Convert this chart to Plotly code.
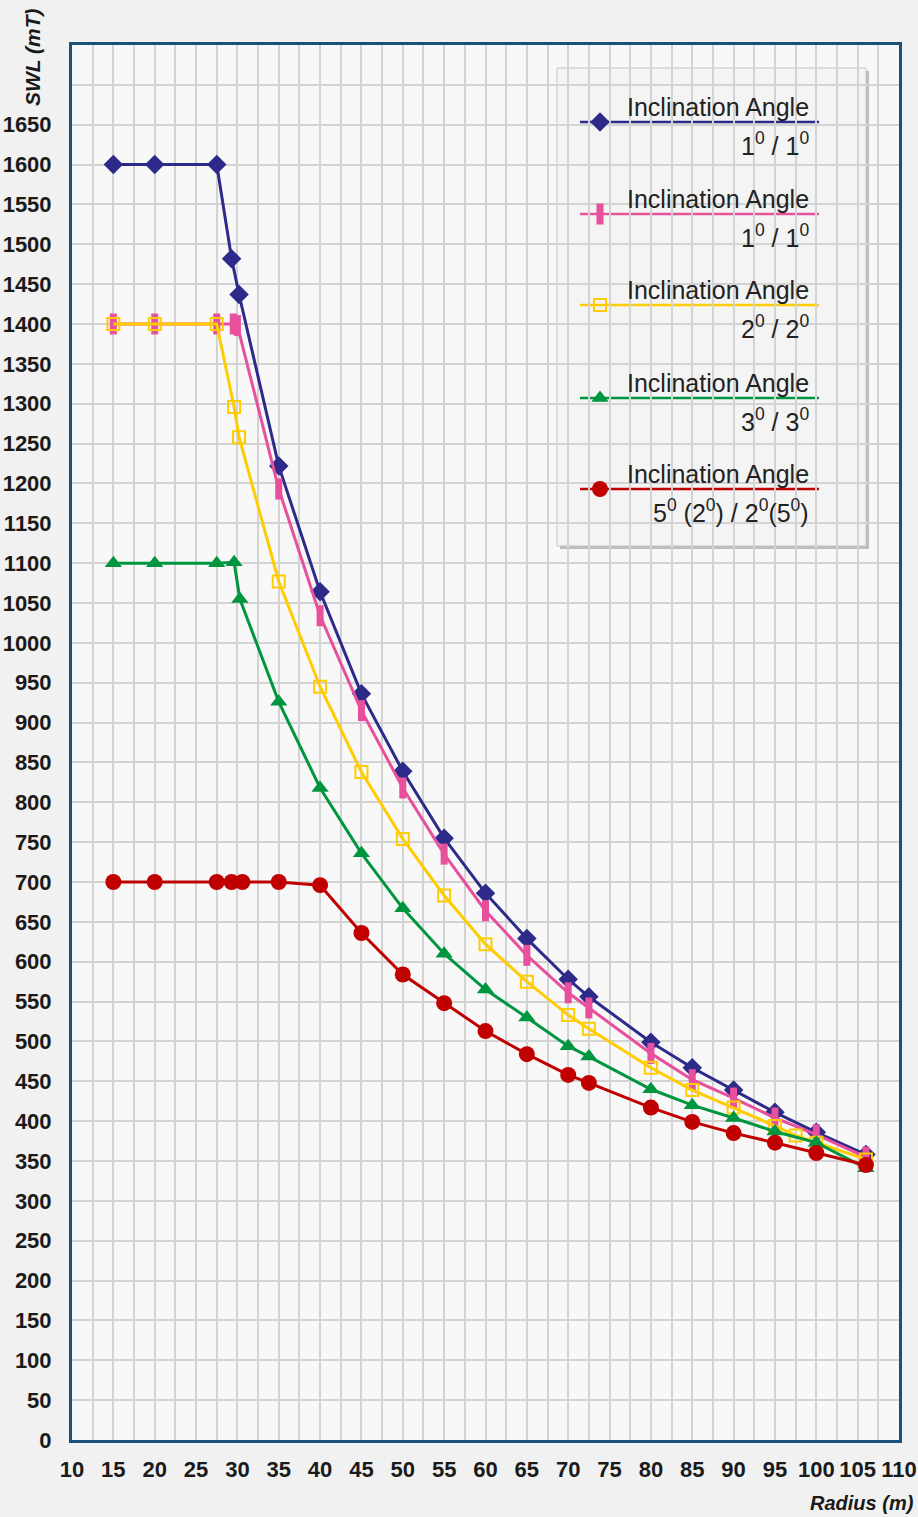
import plotly.graph_objects as go

# ---------------- data ----------------
x_ticks = list(range(10, 115, 5))
y_ticks = list(range(0, 1700, 50))

s1_x = [15, 20, 27.5, 29.3, 30.2, 35, 40, 45, 50, 55, 60, 65, 70, 72.5, 80, 85, 90, 95, 100, 106]
s1_y = [1600, 1600, 1600, 1482, 1437, 1222, 1064, 936, 839, 755, 686, 629, 578, 556, 499, 467, 439, 411, 386, 358]

s2_x = [15, 20, 27.5, 29.5, 30, 35, 40, 45, 50, 55, 60, 65, 70, 72.5, 80, 85, 90, 95, 100, 106]
s2_y = [1400, 1400, 1400, 1400, 1398, 1193, 1034, 915, 818, 735, 664, 608, 561, 542, 485, 452, 429, 404, 383, 355]

s3_x = [15, 20, 27.5, 29.6, 30.2, 35, 40, 45, 50, 55, 60, 65, 70, 72.5, 80, 85, 90, 95, 97.5, 100, 106]
s3_y = [1400, 1400, 1400, 1296, 1258, 1077, 945, 838, 754, 683, 622, 575, 533, 516, 467, 439, 417, 394, 382, 373, 352]

s4_x = [15, 20, 27.5, 29.6, 30.3, 35, 40, 45, 50, 55, 60, 65, 70, 72.5, 80, 85, 90, 95, 100, 106]
s4_y = [1100, 1100, 1100, 1101, 1055, 926, 818, 736, 667, 610, 565, 530, 494, 481, 440, 420, 404, 387, 373, 341]

s5_x = [15, 20, 27.5, 29.3, 30.6, 35, 40, 45, 50, 55, 60, 65, 70, 72.5, 80, 85, 90, 95, 100, 106]
s5_y = [700, 700, 700, 700, 700, 700, 696, 636, 584, 548, 513, 484, 458, 448, 417, 399, 385, 373, 360, 345]

legend_top = ["Inclination Angle"] * 5
legend_bottom = [
    "1<sup>0</sup> / 1<sup>0</sup>",
    "1<sup>0</sup> / 1<sup>0</sup>",
    "2<sup>0</sup> / 2<sup>0</sup>",
    "3<sup>0</sup> / 3<sup>0</sup>",
    "5<sup>0</sup> (2<sup>0</sup>) / 2<sup>0</sup>(5<sup>0</sup>)",
]

# ---------------- styles ----------------
W, H = 918, 1517
ML, MR, MT, MB = 72, 19, 45, 77
PW, PH = W - ML - MR, H - MT - MB

def px(x):
    return (x - ML) / PW

def py(y):
    return (H - MB - y) / PH

series = [
    dict(x=s1_x, y=s1_y, color="#2d2a8a",
         marker=dict(symbol="diamond", size=15, color="#2d2a8a")),
    dict(x=s2_x, y=s2_y, color="#e84f9c",
         marker=dict(symbol="line-ns", size=15, color="#e84f9c",
                     line=dict(color="#e84f9c", width=7))),
    dict(x=s3_x, y=s3_y, color="#ffcc00",
         marker=dict(symbol="square-open", size=12, color="#ffcc00",
                     line=dict(color="#ffcc00", width=2))),
    dict(x=s4_x, y=s4_y, color="#00963f",
         marker=dict(symbol="triangle-up", size=15, color="#00963f")),
    dict(x=s5_x, y=s5_y, color="#c00000",
         marker=dict(symbol="circle", size=16, color="#c00000")),
]

FONT_FAM = "Liberation Sans Narrow, Liberation Sans, Arial, sans-serif"
tick_font = dict(family=FONT_FAM, size=22, color="#1a1a1a", weight="bold")

fig = go.Figure()
for s in series:
    fig.add_trace(go.Scatter(
        x=s["x"], y=s["y"], mode="lines+markers",
        line=dict(color=s["color"], width=3),
        marker=s["marker"], showlegend=False, hoverinfo="skip",
    ))

# ---------------- custom legend ----------------
shapes = []
annotations = []
shapes.append(dict(type="rect", xref="paper", yref="paper", layer="between",
                   x0=px(560), x1=px(869), y0=py(549), y1=py(71),
                   fillcolor="#bdbdbd", line=dict(width=0)))
shapes.append(dict(type="rect", xref="paper", yref="paper", layer="between",
                   x0=px(557), x1=px(866), y0=py(546), y1=py(68),
                   fillcolor="#f4f4f4", line=dict(color="#c4c4c4", width=1)))

entry_y = [122, 214, 305, 398, 489]
for i, s in enumerate(series):
    ly = entry_y[i]
    shapes.append(dict(type="line", xref="paper", yref="paper", layer="between",
                       x0=px(580), x1=px(819), y0=py(ly), y1=py(ly),
                       line=dict(color=s["color"], width=2.5)))
    annotations.append(dict(xref="paper", yref="paper", x=px(811), y=py(ly - 15),
                            text=legend_top[i], showarrow=False, xanchor="right", yanchor="middle",
                            font=dict(family="Liberation Sans, Arial, sans-serif", size=25, color="#222222")))
    annotations.append(dict(xref="paper", yref="paper", x=px(811), y=py(ly + 22),
                            text=legend_bottom[i], showarrow=False, xanchor="right", yanchor="middle",
                            font=dict(family="Liberation Sans, Arial, sans-serif", size=25, color="#222222")))
    fig.add_trace(go.Scatter(
        x=[px(600)], y=[py(ly)], xaxis="x2", yaxis="y2", mode="markers",
        marker=s["marker"], showlegend=False, hoverinfo="skip"))

# axis titles
annotations.append(dict(xref="paper", yref="paper", x=px(33), y=py(57),
                        text="<b><i>SWL (mT)</i></b>", textangle=-90, showarrow=False,
                        xanchor="center", yanchor="middle",
                        font=dict(family=FONT_FAM, size=21, color="#1a1a1a")))
annotations.append(dict(xref="paper", yref="paper", x=px(916), y=py(1503),
                        text="<b><i>Radius (m)</i></b>", showarrow=False,
                        xanchor="right", yanchor="middle",
                        font=dict(family=FONT_FAM, size=20, color="#1a1a1a")))

grid_col = "#d3d3d3"
frame_col = "#1b5079"

fig.update_layout(
    width=W, height=H,
    margin=dict(l=ML, r=MR, t=MT, b=MB, pad=0, autoexpand=False),
    paper_bgcolor="#f1f1f1",
    plot_bgcolor="#f8f8f8",
    shapes=shapes,
    annotations=annotations,
    xaxis=dict(
        range=[10, 110], tickmode="array", tickvals=x_ticks,
        ticktext=[str(v) for v in x_ticks], tickangle=0,
        tickfont=tick_font, automargin=False,
        showgrid=True, gridcolor=grid_col, gridwidth=2,
        minor=dict(dtick=2.5, tick0=10, showgrid=True, gridcolor=grid_col, gridwidth=2),
        showline=True, linecolor=frame_col, linewidth=3, mirror=True,
        ticks="", ticklabelstandoff=8, zeroline=False,
    ),
    yaxis=dict(
        range=[0, 1750], tickmode="array", tickvals=y_ticks + [1700],
        ticktext=[str(v) for v in y_ticks] + [""],
        tickfont=tick_font, automargin=False,
        showgrid=True, gridcolor=grid_col, gridwidth=2,
        showline=True, linecolor=frame_col, linewidth=3, mirror=True,
        ticks="", ticklabelstandoff=13, zeroline=False,
    ),
    xaxis2=dict(range=[0, 1], overlaying="x", visible=False, fixedrange=True),
    yaxis2=dict(range=[0, 1], overlaying="y", visible=False, fixedrange=True),
)

fig.write_html("out.html",
               config={"displayModeBar": False},
               post_script="document.body.style.margin='0';document.body.style.padding='0';")
